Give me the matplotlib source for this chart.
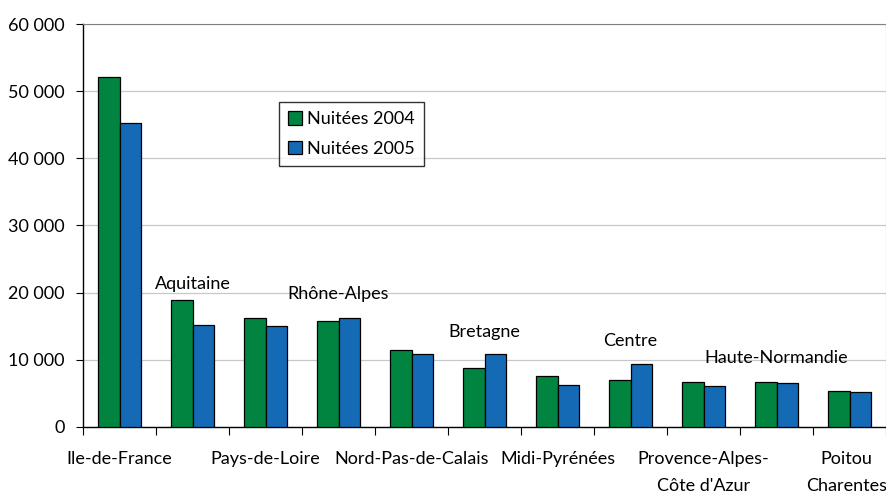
import numpy as np
import matplotlib.pyplot as plt
from matplotlib.ticker import FuncFormatter, MultipleLocator

plt.rcParams['font.family'] = ['Lato', 'DejaVu Sans']

# données
regions = ["Ile-de-France", "Aquitaine", "Pays-de-Loire", "Rhône-Alpes",
           "Nord-Pas-de-Calais", "Bretagne", "Midi-Pyrénées", "Centre",
           "Provence-Alpes-\nCôte d'Azur", "Haute-Normandie", "Poitou\nCharentes"]
nuitees_2004 = [52100, 18900, 16200, 15850, 11450, 8800, 7600, 7070, 6770, 6700, 5290]
nuitees_2005 = [45300, 15200, 15000, 16300, 10850, 10870, 6300, 9450, 6030, 6480, 5210]

# hauteur des étiquettes placées au-dessus des barres
label_y = {1: 21300, 3: 19800, 5: 14100, 7: 12800, 9: 10250}

x = np.arange(len(regions))
w = 0.29

fig = plt.figure(figsize=(8.87, 4.93), dpi=100)
ax = fig.add_axes([0.0936, 0.1339, 0.9053, 0.8174])

ax.bar(x - w / 2, nuitees_2004, w, color='#00843f', edgecolor='black',
       linewidth=0.9, label='Nuitées 2004', zorder=3)
ax.bar(x + w / 2, nuitees_2005, w, color='#156ab6', edgecolor='black',
       linewidth=0.9, label='Nuitées 2005', zorder=3)

ax.set_xlim(-0.5, len(regions) - 0.5)
ax.set_ylim(0, 60000)
ax.yaxis.set_major_locator(MultipleLocator(10000))
ax.yaxis.set_major_formatter(FuncFormatter(lambda v, p: f"{int(v):,}".replace(",", " ")))
ax.grid(axis='y', color='#c8c8c8', linewidth=0.9, zorder=0)
ax.tick_params(axis='y', direction='out', length=5, labelsize=13, pad=8)

# ticks aux limites des catégories
ax.set_xticks(np.arange(len(regions) + 1) - 0.5)
ax.set_xticklabels([])
ax.tick_params(axis='x', direction='out', length=6)

# étiquettes alternées : en bas pour les indices pairs, au-dessus des barres sinon
for i, name in enumerate(regions):
    if i % 2 == 0:
        xi = i - 0.04 if i == len(regions) - 1 else i
        ax.text(xi, -3600, name, ha='center', va='top', fontsize=13,
                linespacing=1.85)
    else:
        ax.text(i, label_y[i], name, ha='center', va='center', fontsize=13)

for side in ['top', 'right']:
    ax.spines[side].set_color('#808080')
ax.spines['left'].set_linewidth(1.0)
ax.spines['bottom'].set_linewidth(1.0)

leg = ax.legend(loc='upper left', bbox_to_anchor=(0.244, 0.806), fontsize=13,
                frameon=True, fancybox=False, edgecolor='black',
                handlelength=0.75, handleheight=0.75, handletextpad=0.3,
                labelspacing=0.75, borderpad=0.5, borderaxespad=0)
leg.get_frame().set_linewidth(1.0)

fig.savefig('out.png', dpi=100)
